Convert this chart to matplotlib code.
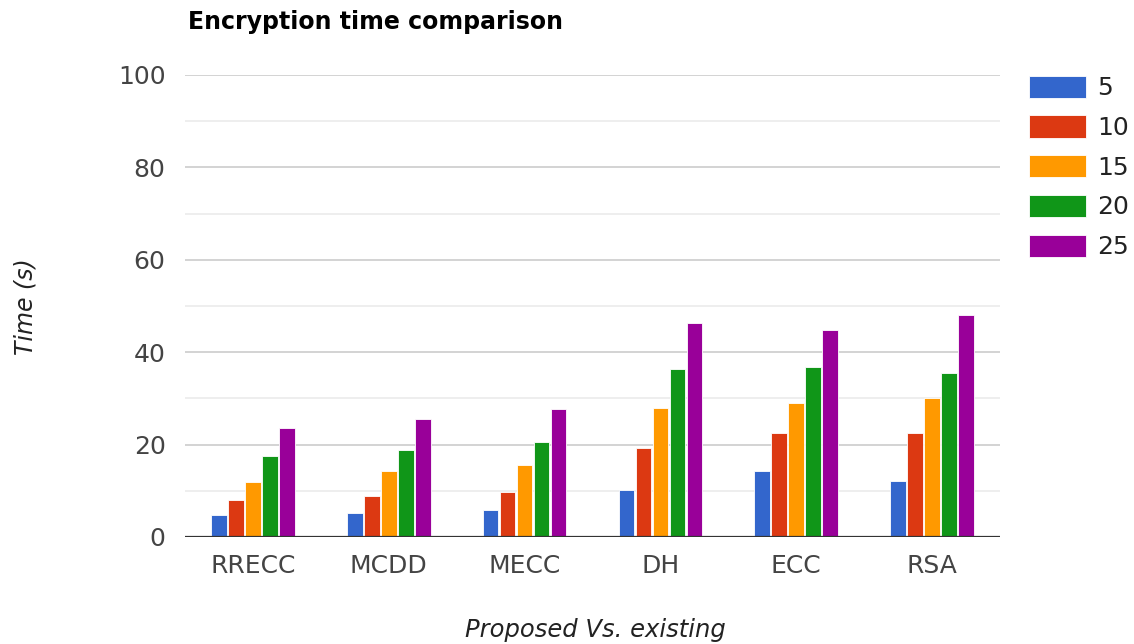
import numpy as np
import matplotlib.pyplot as plt

plt.rcParams["font.family"] = ["DejaVu Sans"]

schemes = ["RRECC", "MCDD", "MECC", "DH", "ECC", "RSA"]
sizes = ["5", "10", "15", "20", "25"]
t5 = [4.7, 5.1, 5.9, 10.1, 14.3, 12.2]
t10 = [8.1, 8.9, 9.7, 19.3, 22.6, 22.6]
t15 = [11.8, 14.3, 15.5, 28.0, 28.9, 30.1]
t20 = [17.6, 18.9, 20.5, 36.4, 36.8, 35.6]
t25 = [23.5, 25.5, 27.6, 46.4, 44.7, 48.0]
series = [t5, t10, t15, t20, t25]
colors = ["#3366CC", "#DC3912", "#FF9900", "#109618", "#990099"]

fig = plt.figure(figsize=(11.34, 6.44), dpi=100)
ax = fig.add_axes([185 / 1134, 1 - 537 / 644, 815 / 1134, 462 / 644])

x = np.arange(len(schemes))
step = 0.125
width = 0.115
for i, (vals, c, lab) in enumerate(zip(series, colors, sizes)):
    ax.bar(x + (i - 2) * step, vals, width, color=c, label=lab,
           edgecolor="white", linewidth=0.6, zorder=3)

ax.set_xlim(-0.5, 5.5)
ax.set_ylim(0, 100)
ax.set_yticks(np.arange(0, 101, 20))
ax.set_yticks(np.arange(10, 100, 20), minor=True)
ax.grid(axis="y", which="major", color="#cccccc", linewidth=1.2, zorder=0)
ax.grid(axis="y", which="minor", color="#ebebeb", linewidth=1.2, zorder=0)
ax.axhline(0, color="#333333", linewidth=1.6, zorder=4)
for s in ax.spines.values():
    s.set_visible(False)
ax.tick_params(axis="both", which="both", length=0, labelsize=18,
               labelcolor="#444444")
ax.tick_params(axis="y", pad=14)
ax.tick_params(axis="x", pad=12)
ax.set_xticks(x)
ax.set_xticklabels(schemes)

fig.text(188 / 1134, 1 - 22 / 644, "Encryption time comparison", fontsize=17,
         fontweight="bold", va="center", ha="left", color="black")
fig.text(25 / 1134, 1 - 307 / 644, "Time (s)", fontsize=17, style="italic",
         rotation=90, va="center", ha="center", color="#222222")
fig.text(595 / 1134, 1 - 630 / 644, "Proposed Vs. existing", fontsize=17.5,
         style="italic", va="center", ha="center", color="#222222")

fig.legend(loc="upper left", bbox_to_anchor=(1006 / 1134, 1 - 53 / 644),
           frameon=False, fontsize=18, handlelength=2.28, handleheight=1.0,
           labelspacing=0.6, handletextpad=0.45, labelcolor="#222222")

fig.savefig("out.png", dpi=100)
